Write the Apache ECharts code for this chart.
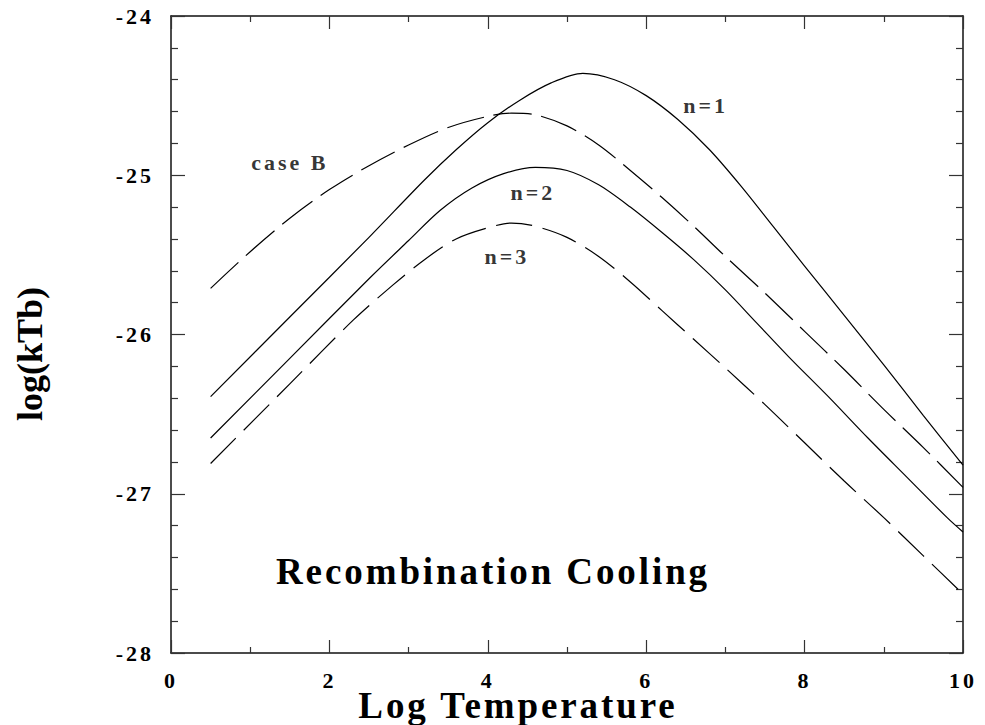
<!DOCTYPE html>
<html><head><meta charset="utf-8">
<script src="https://cdn.jsdelivr.net/npm/echarts@6/dist/echarts.min.js"></script>
<style>
html,body{margin:0;padding:0;background:#fff}
#c{width:985px;height:725px}
#c svg text{letter-spacing:3px}
#c svg text[style*="37px"]{letter-spacing:2.9px}
#c svg text[style*="36px"]{letter-spacing:0px}
</style></head><body><div id="c"></div>
<script>
// Log Temperature vs log(kTb) curves
const caseB = [[0.5,-25.71],[1.0,-25.48],[1.5,-25.27],[2.0,-25.09],[2.5,-24.94],[3.0,-24.81],[3.5,-24.70],[4.0,-24.63],[4.3,-24.61],[4.6,-24.62],[5.0,-24.69],[5.4,-24.81],[5.8,-24.97],[6.2,-25.14],[6.6,-25.32],[7.0,-25.51],[7.5,-25.74],[8.0,-25.98],[8.5,-26.22],[9.0,-26.47],[9.5,-26.71],[10,-26.96]];
const nOne = [[0.5,-26.39],[1.5,-25.89],[2.5,-25.39],[3.2,-25.03],[3.6,-24.84],[4.0,-24.67],[4.4,-24.53],[4.8,-24.42],[5.2,-24.36],[5.6,-24.40],[6.0,-24.50],[6.4,-24.65],[6.8,-24.84],[7.2,-25.07],[7.6,-25.32],[8.0,-25.57],[8.5,-25.88],[9.0,-26.19],[9.5,-26.51],[10,-26.82]];
const nTwo = [[0.5,-26.65],[1.5,-26.15],[2.5,-25.65],[3.0,-25.41],[3.4,-25.22],[3.8,-25.08],[4.2,-24.99],[4.6,-24.95],[5.0,-24.97],[5.4,-25.06],[5.8,-25.20],[6.2,-25.36],[6.6,-25.53],[7.0,-25.72],[7.4,-25.93],[7.8,-26.14],[8.3,-26.39],[8.8,-26.65],[9.3,-26.90],[9.8,-27.15],[10,-27.24]];
const nThree = [[0.5,-26.81],[1.5,-26.31],[2.3,-25.91],[2.8,-25.69],[3.2,-25.53],[3.6,-25.40],[4.0,-25.33],[4.3,-25.30],[4.6,-25.32],[5.0,-25.39],[5.4,-25.51],[5.8,-25.67],[6.2,-25.85],[6.6,-26.03],[7.0,-26.21],[7.5,-26.44],[8.0,-26.68],[8.5,-26.92],[9.0,-27.15],[9.5,-27.39],[10,-27.63]];
// curve annotations
const noteText = ['case B','n=1','n=2','n=3'];
const noteX = [1.5, 6.75, 4.57, 4.24];
const noteY = [-24.92, -24.565, -25.11, -25.51];

const FONT = "Liberation Serif, Times New Roman, serif";
const chart = echarts.init(document.getElementById('c'), null, {renderer:'svg'});

const lineStyleBase = {color:'#000', width:1.2};
function axisCommon(){
  return {
    axisLine:{show:true, onZero:false, lineStyle:{color:'#111', width:1.5}},
    splitLine:{show:false},
    minorSplitLine:{show:false}
  };
}
const tickFont = {color:'#000', fontFamily:FONT, fontWeight:'bold', fontSize:22, lineHeight:18};
const option = {
  animation:false,
  backgroundColor:'#fff',
  textStyle:{fontFamily:FONT},
  grid:{left:171, right:22, top:16, bottom:72},
  xAxis:[
    Object.assign(axisCommon(), {type:'value', min:0, max:10, interval:2, position:'bottom',
      axisTick:{show:true, inside:true, length:13, lineStyle:{color:'#333', width:1.2}},
      minorTick:{show:true, splitNumber:2, length:6, lineStyle:{color:'#333', width:1.2}},
      axisLabel:Object.assign({show:true, margin:18}, tickFont)}),
    Object.assign(axisCommon(), {type:'value', min:0, max:10, interval:2, position:'top',
      axisTick:{show:true, inside:true, length:13, lineStyle:{color:'#333', width:1.2}},
      minorTick:{show:true, splitNumber:2, length:6, lineStyle:{color:'#333', width:1.2}},
      axisLabel:{show:false}})
  ],
  yAxis:[
    Object.assign(axisCommon(), {type:'value', min:-28, max:-24, interval:1, position:'left',
      axisTick:{show:true, inside:true, length:14, lineStyle:{color:'#333', width:1.2}},
      minorTick:{show:true, splitNumber:5, length:7, lineStyle:{color:'#333', width:1.2}},
      axisLabel:Object.assign({show:true, margin:17}, tickFont)}),
    Object.assign(axisCommon(), {type:'value', min:-28, max:-24, interval:1, position:'right',
      axisTick:{show:true, inside:true, length:14, lineStyle:{color:'#333', width:1.2}},
      minorTick:{show:true, splitNumber:5, length:7, lineStyle:{color:'#333', width:1.2}},
      axisLabel:{show:false}})
  ],
  series:[
    {type:'line', name:'case B', data:caseB, showSymbol:false, smooth:0.3, lineStyle:Object.assign({}, lineStyleBase, {type:[38,10]})},
    {type:'line', name:'n=1', data:nOne, showSymbol:false, smooth:0.3, lineStyle:Object.assign({}, lineStyleBase)},
    {type:'line', name:'n=2', data:nTwo, showSymbol:false, smooth:0.3, lineStyle:Object.assign({}, lineStyleBase)},
    {type:'line', name:'n=3', data:nThree, showSymbol:false, smooth:0.3, lineStyle:Object.assign({}, lineStyleBase, {type:[36,11]})},
    {type:'scatter', name:'notes', symbolSize:0, silent:true,
      data: noteText.map((t,i)=>({name:t, value:[noteX[i], noteY[i]]})),
      label:Object.assign({show:true, position:'inside', formatter:p=>p.name}, tickFont)}
  ],
  graphic:[
    {type:'text', x:493, y:571, style:{text:'Recombination Cooling', fill:'#000', font:'bold 37px '+FONT, textAlign:'center', textVerticalAlign:'middle'}},
    {type:'text', x:518, y:705, style:{text:'Log Temperature', fill:'#000', font:'bold 37px '+FONT, lineHeight:30, textAlign:'center', textVerticalAlign:'middle'}},
    {type:'text', x:30, y:354, rotation:Math.PI/2, style:{text:'log(kTb)', fill:'#000', font:'bold 36px '+FONT, textAlign:'center', textVerticalAlign:'middle'}}
  ]
};
chart.setOption(option);
</script></body></html>
